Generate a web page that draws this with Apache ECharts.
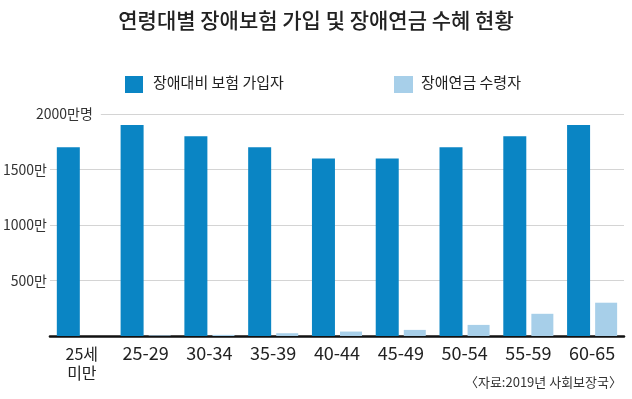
<!DOCTYPE html>
<html>
<head>
<meta charset="utf-8">
<script src="https://cdn.jsdelivr.net/npm/echarts@6/dist/echarts.min.js"></script>
<style>
  html, body { margin: 0; padding: 0; background: #fff; }
  #chart { width: 632px; height: 399px; }
</style>
</head>
<body>
<div id="chart"></div>
<script>
// 연령대별 데이터 (단위: 만명)
const categories = ['25세\n미만', '25-29', '30-34', '35-39', '40-44', '45-49', '50-54', '55-59', '60-65'];
const insured = [1700, 1900, 1800, 1700, 1600, 1600, 1700, 1800, 1900];
const pension = [0, 5, 10, 25, 40, 55, 100, 200, 300];
const yTicks = [0, 500, 1000, 1500, 2000];

const font = '"Noto Sans CJK KR", "Noto Sans", sans-serif';

function init() {
    const chart = echarts.init(document.getElementById('chart'));
    const option = {
        backgroundColor: '#fff',
        animation: false,
        title: {
            text: '연령대별 장애보험 가입 및 장애연금 수혜 현황',
            left: 'center',
            top: 5,
            textStyle: { fontFamily: font, fontSize: 21, fontWeight: 500, color: '#222' }
        },
        legend: { show: false },
        grid: { left: 48, right: 8, top: 114, bottom: 63 },
        xAxis: {
            type: 'category',
            data: categories,
            axisLine: { lineStyle: { color: '#111', width: 2.5 } },
            axisTick: { show: false },
            axisLabel: {
                margin: 8,
                color: '#222',
                verticalAlign: 'top',
                formatter: (v, i) => i === 0 ? '{s|' + v + '}' : '{b|' + v + '}',
                rich: {
                    s: { fontFamily: font, fontSize: 16, lineHeight: 19, color: '#222' },
                    b: { fontFamily: font, fontSize: 18, lineHeight: 19, color: '#222' }
                }
            }
        },
        yAxis: {
            type: 'value',
            min: yTicks[0],
            max: yTicks[yTicks.length - 1],
            interval: 500,
            axisLine: { show: false },
            axisTick: { show: false },
            splitLine: { lineStyle: { color: '#d4d4d4', width: 1 } },
            axisLabel: {
                margin: 3,
                fontFamily: font,
                fontSize: 14,
                color: '#333',
                formatter: v => (v === 0 || v === 2000) ? '' : v + '만'
            }
        },
        graphic: [
            {
                type: 'text', left: 34, top: 107, z: 10,
                style: {
                    text: '2000만명', fontFamily: font, fontSize: 14, fill: '#333',
                    backgroundColor: '#fff', padding: [0, 8, 0, 2]
                }
            },
            { type: 'rect', left: 125, top: 76, z: 10, shape: { width: 18, height: 17 }, style: { fill: '#0a85c4' } },
            { type: 'text', left: 153, top: 75, z: 10, style: { text: '장애대비 보험 가입자', fontFamily: font, fontSize: 15, fill: '#222' } },
            { type: 'rect', left: 394, top: 76, z: 10, shape: { width: 19, height: 17 }, style: { fill: '#a7cfe9' } },
            { type: 'text', left: 421, top: 75, z: 10, style: { text: '장애연금 수령자', fontFamily: font, fontSize: 15, fill: '#222' } },
            { type: 'text', right: 10, top: 376, z: 10, style: { text: '〈자료:2019년 사회보장국〉', fontFamily: font, fontSize: 13, fill: '#333' } }
        ],
        series: [
            {
                name: '장애대비 보험 가입자',
                type: 'bar',
                data: insured,
                barWidth: 23,
                barGap: '22%',
                itemStyle: { color: '#0a85c4' }
            },
            {
                name: '장애연금 수령자',
                type: 'bar',
                data: pension,
                barWidth: 22,
                itemStyle: { color: '#a7cfe9' }
            }
        ]
    };
    chart.setOption(option);
    window.onresize = function () { chart.resize(); };
}
init();
</script>
</body>
</html>
